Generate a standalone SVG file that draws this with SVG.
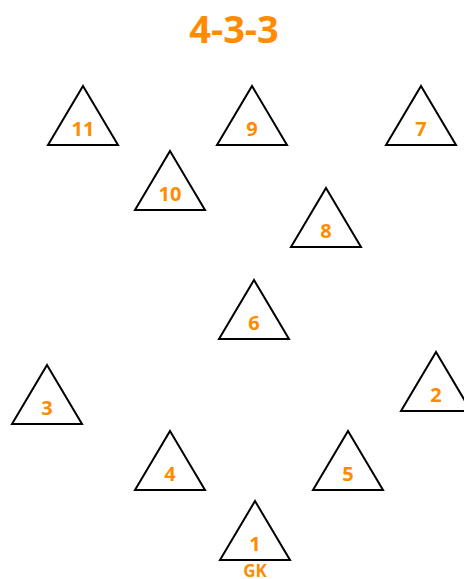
<svg xmlns="http://www.w3.org/2000/svg" width="464" height="579" viewBox="0 0 464 579">
<style>
.t{fill:#fff;stroke:#000;stroke-width:2;stroke-linejoin:miter}
.n{fill:#ff8c00;font-family:"Open Sans","Liberation Sans",sans-serif;font-weight:bold;font-size:20px;text-anchor:middle}
.h{fill:#ff8c00;font-family:"Open Sans","Liberation Sans",sans-serif;font-weight:bold;font-size:38px;text-anchor:middle}
</style>
<defs>
<polygon id="tri" points="0,0 35,59 -35,59"/>
</defs>
<rect width="464" height="579" fill="#fff"/>
<text class="h" x="234" y="43">4-3-3</text>
<g id="connectors"></g>
<g id="p11"><use href="#tri" class="t" x="83" y="86"/><text class="n" x="83" y="136">11</text></g>
<g id="p9"><use href="#tri" class="t" x="252" y="86"/><text class="n" x="252" y="136">9</text></g>
<g id="p7"><use href="#tri" class="t" x="421" y="86"/><text class="n" x="421" y="136">7</text></g>
<g id="p10"><use href="#tri" class="t" x="170" y="151"/><text class="n" x="170" y="201">10</text></g>
<g id="p8"><use href="#tri" class="t" x="326" y="188"/><text class="n" x="326" y="238">8</text></g>
<g id="p6"><use href="#tri" class="t" x="254" y="280"/><text class="n" x="254" y="330">6</text></g>
<g id="p3"><use href="#tri" class="t" x="47" y="365"/><text class="n" x="47" y="415">3</text></g>
<g id="p2"><use href="#tri" class="t" x="436" y="352"/><text class="n" x="436" y="402">2</text></g>
<g id="p4"><use href="#tri" class="t" x="170" y="431"/><text class="n" x="170" y="481">4</text></g>
<g id="p5"><use href="#tri" class="t" x="348" y="431"/><text class="n" x="348" y="481">5</text></g>
<g id="p1"><use href="#tri" class="t" x="255" y="501"/><text class="n" x="255" y="551">1</text><text class="n" x="255" y="577" style="font-size:17px">GK</text></g>
</svg>
